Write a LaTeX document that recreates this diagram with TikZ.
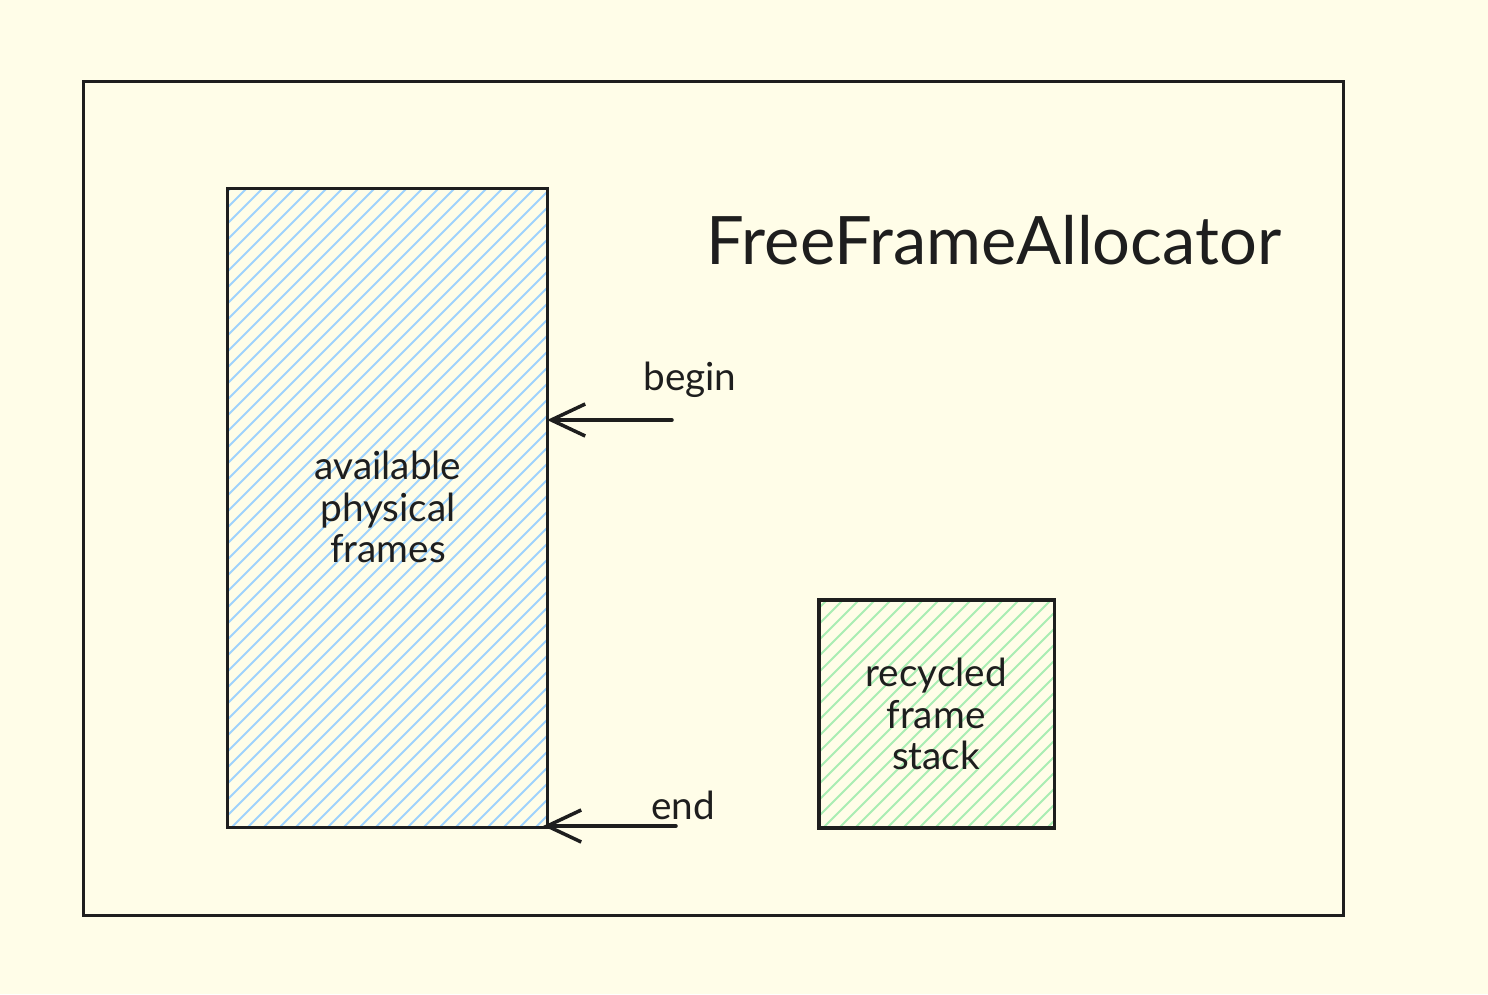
\documentclass[tikz,border=0pt]{standalone}
\usepackage{fontspec}
\setmainfont{Lato}
\usetikzlibrary{arrows.meta}
\usetikzlibrary{positioning}
\definecolor{paper}{HTML}{FFFDE8}
\definecolor{ink}{HTML}{1E1E1E}
\definecolor{hatch_blue}{HTML}{9FD2FC}
\definecolor{hatch_green}{HTML}{A9EDB3}
\tikzset{
	hatched/.style = {
		path picture = {
			\foreach \k in {-700,-684,...,400}
				\draw [#1, line width=0.55pt]
					([xshift=\k*0.01cm]path picture bounding box.south west) -- ++(12cm,12cm);
		}
	},
	boxnode/.style = {
		rectangle,
		draw=ink,
		inner sep=0pt,
		outer sep=0pt,
		line width=0.9pt
	},
	node_outer/.style = {
		boxnode,
		line width=0.75pt,
		minimum width=12.59cm,
		minimum height=8.33cm
	},
	node_frames/.style = {
		boxnode,
		hatched=hatch_blue,
		minimum width=3.19cm,
		minimum height=6.38cm
	},
	node_stack/.style = {
		boxnode,
		hatched=hatch_green,
		minimum width=2.35cm,
		minimum height=2.28cm
	},
	label_text/.style = {
		align=center,
		text=ink,
		font=\fontsize{11}{11.9}\selectfont
	},
	title_text/.style = {
		text=ink,
		font=\fontsize{19}{22}\selectfont
	},
	pointer/.style = {
		->,
		draw=ink,
		line width=1pt,
		line cap=round
	},
}

\begin{document}
\begin{tikzpicture}[x=0.01cm, y=-0.01cm, >={Straight Barb[length=3.4mm,width=3.2mm]}]
\fill [paper] (0,0) rectangle (1488,994);
\useasboundingbox (0,0) rectangle (1488,994);

\node [node_outer] (allocator) at (713.5,498.5) {};
\node [node_frames] (frames) at (387.5,508) {};
\node [node_stack] (stack) at (936.5,714) {};

\node [title_text] (title) at (994,240) {FreeFrameAllocator};
\node [label_text] (frames_text) at (388,507) {available\\physical\\frames};
\node [label_text] (stack_text) at (936,714) {recycled\\frame\\stack};

% pointers into the frame range
\coordinate (begin_tail) at (672,420);
\coordinate (end_tail) at (676,826);
\node [label_text] (begin_label) at (690,380) {begin};
\node [label_text] (end_label) at (683,805) {end};
\draw [pointer] (begin_tail) -- (begin_tail -| frames.east);
\draw [pointer] (end_tail) -- ([xshift=-0.04cm]end_tail -| frames.east);
\end{tikzpicture}
\end{document}
